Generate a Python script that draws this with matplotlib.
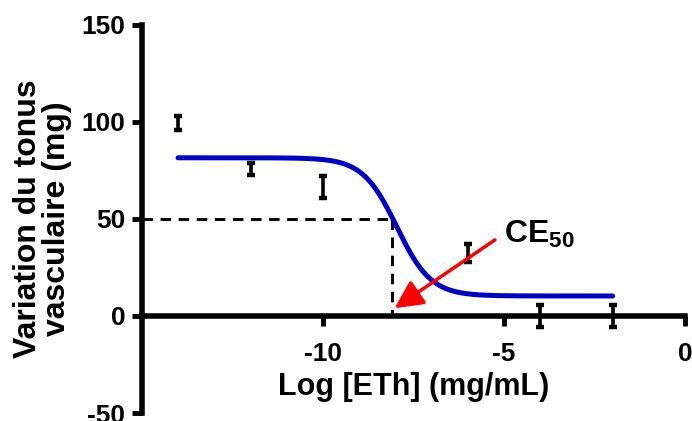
import numpy as np
import matplotlib
matplotlib.use("Agg")
import matplotlib.pyplot as plt

plt.rcParams['font.family'] = ['Liberation Sans', 'DejaVu Sans']
plt.rcParams['font.weight'] = 'bold'
plt.rcParams['axes.unicode_minus'] = False
plt.rcParams['mathtext.fontset'] = 'custom'
plt.rcParams['mathtext.bf'] = 'Liberation Sans:bold'
plt.rcParams['mathtext.rm'] = 'Liberation Sans:bold'

# mesures (moyenne +/- erreur)
log_conc = [-14, -12, -10, -6, -4, -2]
tonus = [99.5, 75.8, 66.5, 32.5, 0.0, 0.0]
erreur = [3.5, 3.0, 5.5, 4.5, 5.5, 5.5]

# parametres de l'ajustement sigmoide
top = 81.5
bottom = 10.3
log_ce50 = -7.96
hill = 0.92
x_debut, x_fin = -14, -2

x_ce50 = -8.1
y_ce50 = 50

x_ticks = [-10, -5, 0]
y_ticks = [-50, 0, 50, 100, 150]

fig = plt.figure(figsize=(6.92, 4.21), dpi=100)
ax = fig.add_axes([0.205, 0.019, 0.785, 0.922])

xc = np.linspace(x_debut, x_fin, 300)
yc = bottom + (top - bottom) / (1 + 10 ** ((xc - log_ce50) * hill))
ax.plot(xc, yc, color='#0000c8', lw=3.6, solid_capstyle='round', zorder=3)

ax.errorbar(log_conc, tonus, yerr=erreur, fmt='none', ecolor='black',
            elinewidth=2.6, capsize=3, capthick=3.2, zorder=4)

ax.plot([-15, x_ce50], [y_ce50, y_ce50], color='black', lw=2.1, ls=(0, (3.6, 2.6)))
ax.plot([x_ce50, x_ce50], [y_ce50, 0], color='black', lw=2.1, ls=(0, (3.6, 2.6)))

ax.annotate('', xy=(-8.02, 4.0), xytext=(-5.25, 39.2),
            arrowprops=dict(arrowstyle='-|>,head_length=1.7,head_width=0.85',
                            color='red', lw=2.5, shrinkA=0, shrinkB=0),
            zorder=5)
ax.text(-5.0, 37.6, r'CE$_{\mathbf{50}}$', fontsize=23, fontweight='bold',
        va='baseline', ha='left')

ax.set_xlim(-15, 0)
ax.set_ylim(-50, 150)
ax.set_xticks(x_ticks)
ax.set_yticks(y_ticks)

for s in ['top', 'right']:
    ax.spines[s].set_visible(False)
ax.spines['bottom'].set_position(('data', 0))
ax.spines['left'].set_linewidth(4)
ax.spines['bottom'].set_linewidth(4)
ax.tick_params(width=3.5, length=7, labelsize=19, pad=5)
ax.tick_params(axis='x', pad=12)

ax.set_xlabel('Log [ETh] (mg/mL)', fontsize=22, fontweight='bold', labelpad=4)
ax.set_ylabel('Variation du tonus\nvasculaire (mg)', fontsize=23,
              fontweight='bold', labelpad=7, linespacing=0.95)

fig.savefig('out.png', dpi=100)
